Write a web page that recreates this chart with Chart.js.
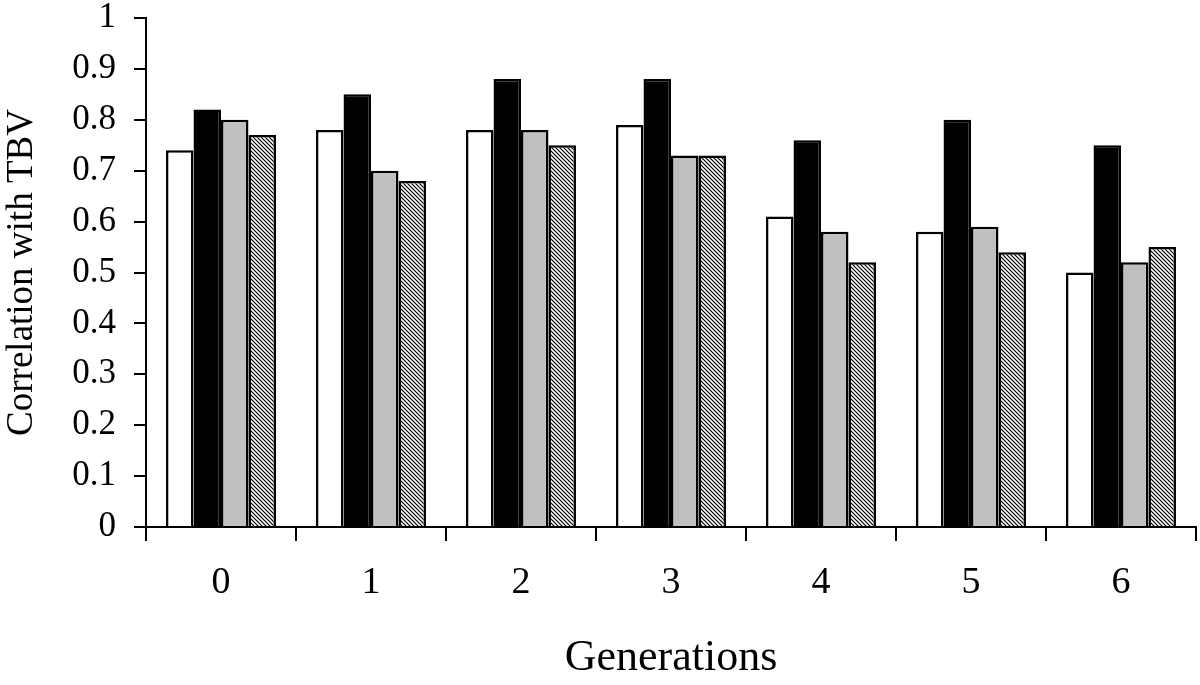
<!DOCTYPE html>
<html>
<head>
<meta charset="utf-8">
<script src="https://cdn.jsdelivr.net/npm/chart.js@4"></script>
<style>
  body { margin: 0; background: #fff; }
  #wrap { width: 1200px; height: 685px; }
</style>
</head>
<body>
<div id="wrap"><canvas id="barChart" width="1200" height="685"></canvas></div>
<script>
// data
var generations = ["0", "1", "2", "3", "4", "5", "6"];
var seriesA = [0.74, 0.78, 0.78, 0.79, 0.61, 0.58, 0.50];   // white
var seriesB = [0.82, 0.85, 0.88, 0.88, 0.76, 0.80, 0.75];   // black
var seriesC = [0.80, 0.70, 0.78, 0.73, 0.58, 0.59, 0.52];   // grey
var seriesD = [0.77, 0.68, 0.75, 0.73, 0.52, 0.54, 0.55];   // hatched

// little diagonal hatch for the 4th series
function hatch() {
    var c = document.createElement('canvas');
    c.width = 4; c.height = 4;
    var g = c.getContext('2d');
    g.fillStyle = '#fff';
    g.fillRect(0, 0, 4, 4);
    g.strokeStyle = '#000';
    g.lineWidth = 1.2;
    g.beginPath();
    g.moveTo(-1, -1); g.lineTo(5, 5);
    g.moveTo(-1, 3); g.lineTo(1, 5);
    g.moveTo(3, -1); g.lineTo(5, 1);
    g.stroke();
    return g.createPattern(c, 'repeat');
}

var ctx = document.getElementById("barChart").getContext('2d');
var serif = "'Liberation Serif', 'Times New Roman', serif";

function ds(vals, fill) {
    return {
        data: vals,
        backgroundColor: fill,
        borderColor: '#000',
        borderWidth: 2.5,
        barPercentage: 1,
        categoryPercentage: 0.733
    };
}

var chart = new Chart(ctx, {
    type: 'bar',
    data: {
        labels: generations,
        datasets: [
            ds(seriesA, '#ffffff'),
            ds(seriesB, '#000000'),
            ds(seriesC, '#c0c0c0'),
            ds(seriesD, hatch())
        ]
    },
    options: {
        responsive: false,
        animation: false,
        layout: { padding: { top: 18, right: 4, left: 0, bottom: 0 } },
        plugins: {
            legend: { display: false },
            tooltip: { enabled: false }
        },
        scales: {
            x: {
                grid: { drawOnChartArea: false, tickLength: 14, color: '#000', lineWidth: 2 },
                border: { color: '#000', width: 2 },
                ticks: { color: '#000', padding: 23, font: { family: serif, size: 38, lineHeight: 1 } },
                title: { display: true, text: 'Generations', color: '#000', padding: 0,
                         font: { family: serif, size: 44 } },
                afterFit: function (scale) { scale.height = 158; }
            },
            y: {
                min: 0,
                max: 1,
                grid: { drawOnChartArea: false, tickLength: 12, color: '#000', lineWidth: 2 },
                border: { color: '#000', width: 2 },
                ticks: { stepSize: 0.1, color: '#000', padding: 18,
                         font: { family: serif, size: 35, lineHeight: 1 },
                         callback: function (v) { return Math.round(v * 10) / 10; } },
                title: { display: true, text: 'Correlation with TBV', color: '#000', padding: 0,
                         font: { family: serif, size: 37 } },
                afterFit: function (scale) {
                    scale.width = 146;
                    scale.paddingTop = 0;
                    scale.paddingBottom = 0;
                }
            }
        }
    }
});
</script>
</body>
</html>
